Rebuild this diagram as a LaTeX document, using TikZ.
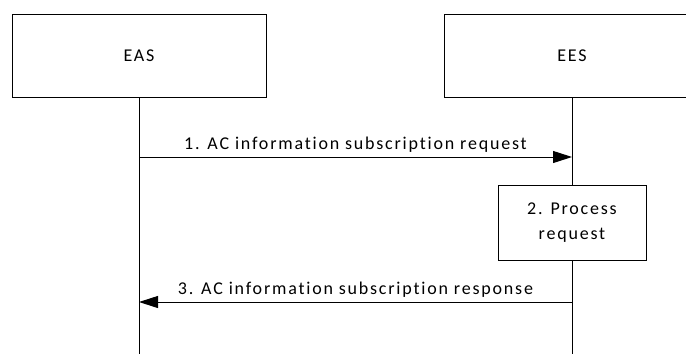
\documentclass[tikz,border=0pt]{standalone}
\usepackage{fontspec}
\setmainfont{Carlito}[LetterSpace=10,Ligatures=NoCommon]
\usepackage{tikz}
\usetikzlibrary{positioning,arrows.meta}

\begin{document}
\begin{tikzpicture}[x=1pt,y=1pt,
                    every node/.style={font=\fontsize{18}{25}\selectfont},
                    entity/.style={draw,line width=1pt,minimum height=83pt,inner sep=0pt},
                    procbox/.style={draw,line width=1pt,minimum width=148pt,minimum height=75pt,align=center,inner sep=0pt},
                    life/.style={line width=1pt},
                    msg/.style={line width=1pt,-{Triangle[length=19pt,width=12pt]}}]
  \useasboundingbox (0,0) rectangle (686,-354);
  \node[entity, minimum width=254pt] (eas) at (139,-55.5) {EAS};
  \node[entity, minimum width=256pt] (ees) at (572,-55.5) {EES};
  \node[procbox] (proc) at (572,-222.5) {2. Process\\request};
  \coordinate (easEnd) at (139,-354);
  \coordinate (eesEnd) at (572,-354);
  \coordinate (req1) at (139,-157);   \coordinate (req2) at (572,-157);
  \coordinate (rsp1) at (572,-302);   \coordinate (rsp2) at (139,-302);
  % lifelines
  \draw[life] (eas.south) -- (easEnd);
  \draw[life] (ees.south) -- (proc.north);
  \draw[life] (proc.south) -- (eesEnd);
  % messages
  \draw[msg] (req1) -- node[above=1pt] {1. AC information subscription request} (req2);
  \draw[msg] (rsp1) -- node[above=1pt] {3. AC information subscription response} (rsp2);
\end{tikzpicture}
\end{document}
